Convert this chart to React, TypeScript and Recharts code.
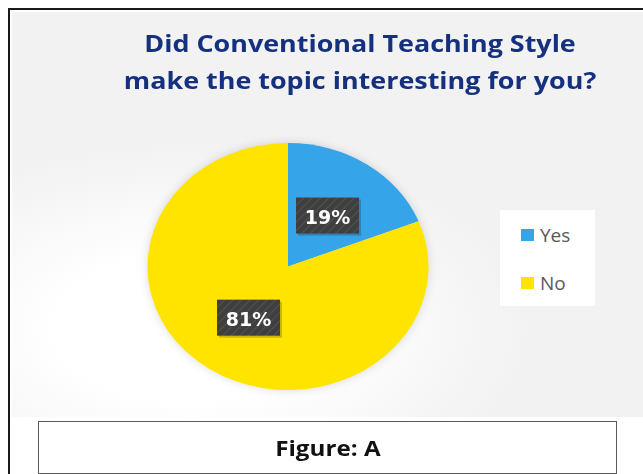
import React from 'react'
import { PieChart, Pie, Cell, Legend } from 'recharts'

const categories = ['Yes', 'No']
const shares = [19, 81]
const sliceColors = ['#35a4e8', '#ffe400']

const titleLines = ['Did Conventional Teaching Style', 'make the topic interesting for you?']
const caption = 'Figure: A'

const data = categories.map((name, i) => ({ name, value: shares[i] }))

const RAD = Math.PI / 180
// the source picture is stretched sideways, so the pie is an ellipse
const SQUASH = 123.5 / 140.5
const PIE_X = 276
const PIE_Y = 254

function renderLabel(props: any) {
    const { cx, cy, midAngle, outerRadius, value, index } = props
    const r = outerRadius * 0.5
    const x = cx + r * Math.cos(-midAngle * RAD)
    const y = cy + r * Math.sin(-midAngle * RAD)
    const w = 63
    const h = 36
    const pid = `lblPat${index}`
    return (
        <g transform={`translate(${x},${y}) scale(1,${1 / SQUASH})`}>
            <defs>
                <pattern id={pid} width="6" height="6" patternUnits="userSpaceOnUse" patternTransform="rotate(45)">
                    <rect width="6" height="6" fill="#3f3f3f" />
                    <line x1="0" y1="0" x2="0" y2="6" stroke="#525252" strokeWidth="2" />
                </pattern>
            </defs>
            <rect x={-w / 2 + 2} y={-h / 2 + 2} width={w} height={h} fill="rgba(0,0,0,0.2)" />
            <rect x={-w / 2} y={-h / 2} width={w} height={h} fill={`url(#${pid})`} />
            <text
                x={0}
                y={1}
                fill="#ffffff"
                textAnchor="middle"
                dominantBaseline="central"
                style={{ fontFamily: 'DejaVu Sans', fontWeight: 700, fontSize: 19 }}
            >
                {`${value}%`}
            </text>
        </g>
    )
}

function LegendBox() {
    return (
        <div style={{ position: 'relative', width: 95, height: 96, background: '#ffffff' }}>
            {categories.map((c, i) => (
                <div key={c} style={{ position: 'absolute', left: 21, top: 13 + i * 48, display: 'flex', alignItems: 'center', height: 24 }}>
                    <span style={{ display: 'inline-block', width: 13, height: 12, background: sliceColors[i], marginRight: 6 }} />
                    <span style={{ fontFamily: 'Open Sans', fontSize: 19, color: '#595959', lineHeight: '24px' }}>{c}</span>
                </div>
            ))}
        </div>
    )
}

export default function App() {
    return (
        <div
            style={{
                position: 'fixed',
                left: 8,
                top: 8,
                width: 635,
                height: 466,
                borderTop: '2px solid #1a1a1a',
                borderLeft: '2px solid #1a1a1a',
                boxSizing: 'border-box',
                overflow: 'hidden',
                background: '#ffffff',
            }}
        >
            <style>{`
                .pie-area svg.recharts-surface {
                    transform: scaleY(${SQUASH});
                    transform-origin: ${PIE_X + 5}px ${PIE_Y + 5}px;
                    filter: drop-shadow(0 0 5px rgba(0,0,0,0.14));
                }
            `}</style>
            <div
                style={{
                    position: 'absolute',
                    left: 2,
                    top: 2,
                    width: 640,
                    height: 405,
                    background: 'radial-gradient(ellipse 70% 60% at 28% 78%, #ffffff 0%, #ffffff 30%, #f2f2f2 75%)',
                }}
            >
                <div
                    style={{
                        position: 'absolute',
                        left: 48,
                        top: 13,
                        width: 600,
                        textAlign: 'center',
                        fontFamily: 'Open Sans',
                        fontWeight: 700,
                        fontSize: 23,
                        lineHeight: '37px',
                        color: '#15307f',
                        transform: 'scaleX(1.17)',
                        transformOrigin: '300px 0px',
                    }}
                >
                    {titleLines.map((t) => (
                        <div key={t}>{t}</div>
                    ))}
                </div>
                <div className="pie-area" style={{ position: 'absolute', left: 0, top: 0 }}>
                    <PieChart width={631} height={405}>
                        <Pie
                            data={data}
                            dataKey="value"
                            nameKey="name"
                            cx={PIE_X - 5}
                            cy={PIE_Y - 5}
                            outerRadius={140.5}
                            startAngle={90}
                            endAngle={-270}
                            stroke="none"
                            label={renderLabel}
                            labelLine={false}
                            isAnimationActive={false}
                        >
                            {data.map((d, i) => (
                                <Cell key={d.name} fill={sliceColors[i]} />
                            ))}
                        </Pie>
                        <Legend
                            content={() => <LegendBox />}
                            wrapperStyle={{ position: 'absolute', left: 488, top: 198, width: 95, height: 96 }}
                        />
                    </PieChart>
                </div>
            </div>
            <div
                style={{
                    position: 'absolute',
                    left: 28,
                    top: 411,
                    width: 579,
                    height: 53,
                    border: '1.5px solid #5a5a5a',
                    boxSizing: 'border-box',
                    background: '#ffffff',
                    textAlign: 'center',
                    fontFamily: 'Open Sans',
                    fontWeight: 700,
                    fontSize: 22,
                    lineHeight: '50px',
                    color: '#111111',
                }}
            >
                <span style={{ display: 'inline-block', transform: 'scaleX(1.1)' }}>{caption}</span>
            </div>
        </div>
    )
}
